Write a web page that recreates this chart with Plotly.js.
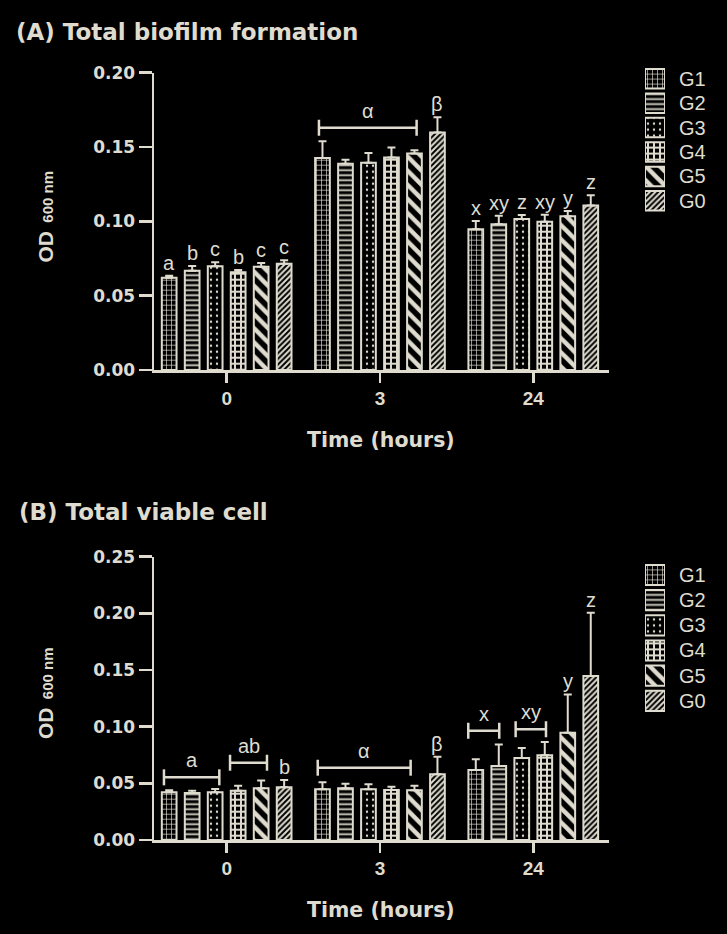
<!DOCTYPE html>
<html>
<head>
<meta charset="utf-8">
<script src="https://cdn.plot.ly/plotly-3.0.1.min.js"></script>
<style>html,body{margin:0;padding:0;background:#000;}#chart{width:727px;height:934px;}</style>
</head>
<body>
<div id="chart"></div>
<script>
// ---------- DATA ----------
const times = ['0', '3', '24'];
const groups = ['G1', 'G2', 'G3', 'G4', 'G5', 'G0'];

// (A) Total biofilm formation – mean OD600 per group at 0, 3, 24 h
const biofilmG1 = [0.0621, 0.1427, 0.0947];
const biofilmG2 = [0.0668, 0.1388, 0.0981];
const biofilmG3 = [0.0698, 0.1395, 0.1016];
const biofilmG4 = [0.0657, 0.1429, 0.0998];
const biofilmG5 = [0.0695, 0.1456, 0.1034];
const biofilmG0 = [0.0715, 0.1597, 0.1106];
const biofilmErrG1 = [0.0013, 0.0112, 0.0056];
const biofilmErrG2 = [0.0031, 0.0027, 0.0056];
const biofilmErrG3 = [0.0027, 0.0065, 0.0027];
const biofilmErrG4 = [0.0016, 0.0067, 0.0047];
const biofilmErrG5 = [0.0025, 0.0023, 0.0036];
const biofilmErrG0 = [0.0023, 0.0103, 0.0070];

// (B) Total viable cell
const viableG1 = [0.0421, 0.0447, 0.0618];
const viableG2 = [0.0415, 0.0456, 0.0653];
const viableG3 = [0.0421, 0.0447, 0.0724];
const viableG4 = [0.0435, 0.0441, 0.0747];
const viableG5 = [0.0456, 0.0438, 0.0947];
const viableG0 = [0.0465, 0.0580, 0.1447];
const viableErrG1 = [0.0018, 0.0062, 0.0094];
const viableErrG2 = [0.0020, 0.0040, 0.0190];
const viableErrG3 = [0.0030, 0.0044, 0.0088];
const viableErrG4 = [0.0044, 0.0029, 0.0118];
const viableErrG5 = [0.0070, 0.0040, 0.0338];
const viableErrG0 = [0.0065, 0.0155, 0.0559];

// significance letters above single bars (per time point, per group)
const biofilmLetters0  = ['a', 'b', 'c', 'b', 'c', 'c'];
const biofilmLetters3  = ['', '', '', '', '', 'β'];
const biofilmLetters24 = ['x', 'xy', 'z', 'xy', 'y', 'z'];
const viableLetters0  = ['', '', '', '', '', 'b'];
const viableLetters3  = ['', '', '', '', '', 'β'];
const viableLetters24 = ['', '', '', '', 'y', 'z'];

// brackets spanning several bars (x in category units, y in OD units)
const biofilmBracketLabel = ['α'];
const biofilmBracketX0 = [0.602];
const biofilmBracketX1 = [1.239];
const biofilmBracketY  = [0.163];
const viableBracketLabel = ['a', 'ab', 'α', 'x', 'xy'];
const viableBracketX0 = [-0.409, 0.022, 0.594, 1.576, 1.885];
const viableBracketX1 = [-0.048, 0.263, 1.200, 1.778, 2.083];
const viableBracketY  = [0.0553, 0.0682, 0.0638, 0.0964, 0.0977];

const yTicksA = [0, 0.05, 0.10, 0.15, 0.20];
const yTicksB = [0, 0.05, 0.10, 0.15, 0.20, 0.25];

// ---------- STYLE ----------
const beige = '#dfdccf';
const W = 727, H = 934;
const patShape = ['+', '-', '.', '+', '\\', '/'];
const patSize = [5, 5, 6, 6, 10, 4];
const patSolid = [0.25, 0.35, 0.12, 0.55, 0.45, 0.5];
const boldFont = 'DejaVu Sans, sans-serif';
const regFont = 'Liberation Sans, Arial, sans-serif';

function px(x) { return x / W; }
function py(y) { return 1 - y / H; }

const biofilmVals = [biofilmG1, biofilmG2, biofilmG3, biofilmG4, biofilmG5, biofilmG0];
const biofilmErrs = [biofilmErrG1, biofilmErrG2, biofilmErrG3, biofilmErrG4, biofilmErrG5, biofilmErrG0];
const viableVals = [viableG1, viableG2, viableG3, viableG4, viableG5, viableG0];
const viableErrs = [viableErrG1, viableErrG2, viableErrG3, viableErrG4, viableErrG5, viableErrG0];
const biofilmLetters = [biofilmLetters0, biofilmLetters3, biofilmLetters24];
const viableLetters = [viableLetters0, viableLetters3, viableLetters24];

function marker(i) {
  return {
    color: beige,
    line: {color: beige, width: 2},
    pattern: {shape: patShape[i], size: patSize[i], solidity: patSolid[i],
              fgcolor: beige, bgcolor: '#000', fillmode: 'replace'}
  };
}

const traces = [];
groups.forEach((g, i) => {
  traces.push({
    type: 'bar', name: g, x: times, y: biofilmVals[i], xaxis: 'x', yaxis: 'y',
    marker: marker(i), showlegend: false,
    error_y: {type: 'data', symmetric: false, array: biofilmErrs[i], arrayminus: [0, 0, 0],
              color: beige, thickness: 2, width: 4}
  });
});
groups.forEach((g, i) => {
  traces.push({
    type: 'bar', name: g, x: times, y: viableVals[i], xaxis: 'x2', yaxis: 'y2',
    marker: marker(i), showlegend: false,
    error_y: {type: 'data', symmetric: false, array: viableErrs[i], arrayminus: [0, 0, 0],
              color: beige, thickness: 2, width: 4}
  });
});
// legend swatches (pattern keys) drawn as bars on small hidden axes
groups.forEach((g, i) => {
  traces.push({type: 'bar', orientation: 'h', x: [1], y: [g], xaxis: 'x3', yaxis: 'y3',
    width: 0.8, offset: -0.4, marker: marker(i), showlegend: false, hoverinfo: 'skip'});
  traces.push({type: 'bar', orientation: 'h', x: [1], y: [g], xaxis: 'x4', yaxis: 'y4',
    width: 0.8, offset: -0.4, marker: marker(i), showlegend: false, hoverinfo: 'skip'});
});

const xDom = [px(154), px(609)];
const xRange = [-0.474, 2.494];
function xAxis(anchor) {
  return {
    domain: xDom, anchor: anchor, type: 'category', categoryarray: times, range: xRange,
    showline: true, linecolor: beige, linewidth: 2.5, ticks: 'outside', ticklen: 10,
    tickwidth: 2.5, tickcolor: beige, showgrid: false, zeroline: false,
    tickfont: {family: regFont, size: 19, color: beige, weight: 'bold'}
  };
}
function yAxis(anchor, dom, range, ticks) {
  return {
    domain: dom, anchor: anchor, range: range, tickvals: ticks,
    ticktext: ticks.map(t => t.toFixed(2)),
    showline: true, linecolor: beige, linewidth: 2.5, ticks: 'outside', ticklen: 13,
    tickwidth: 2.5, tickcolor: beige, showgrid: false, zeroline: false,
    tickfont: {family: boldFont, size: 17, color: beige, weight: 'bold'}
  };
}
function legAxisX(anchor) {
  return {domain: [px(645), px(665)], anchor: anchor, range: [0, 1], visible: false, fixedrange: true};
}
function legAxisY(anchor, dom) {
  return {domain: dom, anchor: anchor, type: 'category', categoryarray: groups,
    tickmode: 'array', tickvals: groups, ticktext: groups,
    range: [5.5, -0.5], side: 'right', showline: false, showgrid: false, zeroline: false,
    ticks: '', ticklabelstandoff: 13,
    tickfont: {family: regFont, size: 20, color: beige}};
}

const annotations = [];
const shapes = [];
function addLetters(lettersByTime, vals, errs, xa, ya) {
  lettersByTime.forEach((arr, t) => {
    arr.forEach((txt, i) => {
      if (!txt) return;
      annotations.push({xref: xa, yref: ya, x: t + (i - 2.5) * 0.15, y: vals[i][t] + errs[i][t],
        text: txt, showarrow: false, xanchor: 'center', yanchor: 'bottom', yshift: 0,
        font: {family: regFont, size: 20, color: beige}});
    });
  });
}
function addBrackets(labels, x0s, x1s, ys, xa, ya) {
  labels.forEach((lab, k) => {
    const ln = {color: beige, width: 2.5};
    shapes.push({type: 'line', xref: xa, yref: ya, x0: x0s[k], x1: x1s[k], y0: ys[k], y1: ys[k], line: ln});
    [x0s[k], x1s[k]].forEach(xx => {
      shapes.push({type: 'line', xref: xa, yref: ya, x0: xx, x1: xx, ysizemode: 'pixel',
        yanchor: ys[k], y0: -8, y1: 8, line: ln});
    });
    annotations.push({xref: xa, yref: ya, x: (x0s[k] + x1s[k]) / 2, y: ys[k], text: lab,
      showarrow: false, xanchor: 'center', yanchor: 'bottom', yshift: 4,
      font: {family: regFont, size: 20, color: beige}});
  });
}
addLetters(biofilmLetters, biofilmVals, biofilmErrs, 'x', 'y');
addLetters(viableLetters, viableVals, viableErrs, 'x2', 'y2');
addBrackets(biofilmBracketLabel, biofilmBracketX0, biofilmBracketX1, biofilmBracketY, 'x', 'y');
addBrackets(viableBracketLabel, viableBracketX0, viableBracketX1, viableBracketY, 'x2', 'y2');

// titles
const titleFont = {family: boldFont, size: 23, color: beige, weight: 'bold'};
annotations.push({xref: 'paper', yref: 'paper', x: px(14), y: py(31.5), xanchor: 'left', yanchor: 'middle',
  text: '<b>(A) Total biofilm formation</b>', showarrow: false, font: titleFont});
annotations.push({xref: 'paper', yref: 'paper', x: px(17), y: py(511.5), xanchor: 'left', yanchor: 'middle',
  text: '<b>(B) Total viable cell</b>', showarrow: false, font: titleFont});
const axTitleFont = {family: boldFont, size: 20.5, color: beige, weight: 'bold'};
annotations.push({xref: 'paper', yref: 'paper', x: px(381), y: py(440), xanchor: 'center', yanchor: 'middle',
  text: '<b>Time (hours)</b>', showarrow: false, font: axTitleFont});
annotations.push({xref: 'paper', yref: 'paper', x: px(381), y: py(910), xanchor: 'center', yanchor: 'middle',
  text: '<b>Time (hours)</b>', showarrow: false, font: axTitleFont});
const yTitle = '<b>OD</b><span style="font-size:15px"><b>  600 nm</b></span>';
const yTitleFont = {family: regFont, size: 21, color: beige, weight: 'bold'};
annotations.push({xref: 'paper', yref: 'paper', x: px(45), y: py(216.5), xanchor: 'center', yanchor: 'middle',
  text: yTitle, textangle: -90, showarrow: false, font: yTitleFont});
annotations.push({xref: 'paper', yref: 'paper', x: px(45), y: py(693), xanchor: 'center', yanchor: 'middle',
  text: yTitle, textangle: -90, showarrow: false, font: yTitleFont});

const layout = {
  width: W, height: H, margin: {l: 0, r: 0, t: 0, b: 0},
  paper_bgcolor: '#000', plot_bgcolor: '#000',
  barmode: 'group', bargap: 0.1, bargroupgap: 0.36,
  showlegend: false,
  xaxis: xAxis('y'), yaxis: yAxis('x', [py(370), py(72.7)], [0, 0.2], yTicksA),
  xaxis2: xAxis('y2'), yaxis2: yAxis('x2', [py(840), py(556.7)], [0, 0.25], yTicksB),
  xaxis3: legAxisX('y3'), yaxis3: legAxisY('x3', [py(213), py(66.6)]),
  xaxis4: legAxisX('y4'), yaxis4: legAxisY('x4', [py(713.4), py(562.4)]),
  annotations: annotations, shapes: shapes
};
Plotly.newPlot('chart', traces, layout, {displayModeBar: false, staticPlot: true});
</script>
</body>
</html>
